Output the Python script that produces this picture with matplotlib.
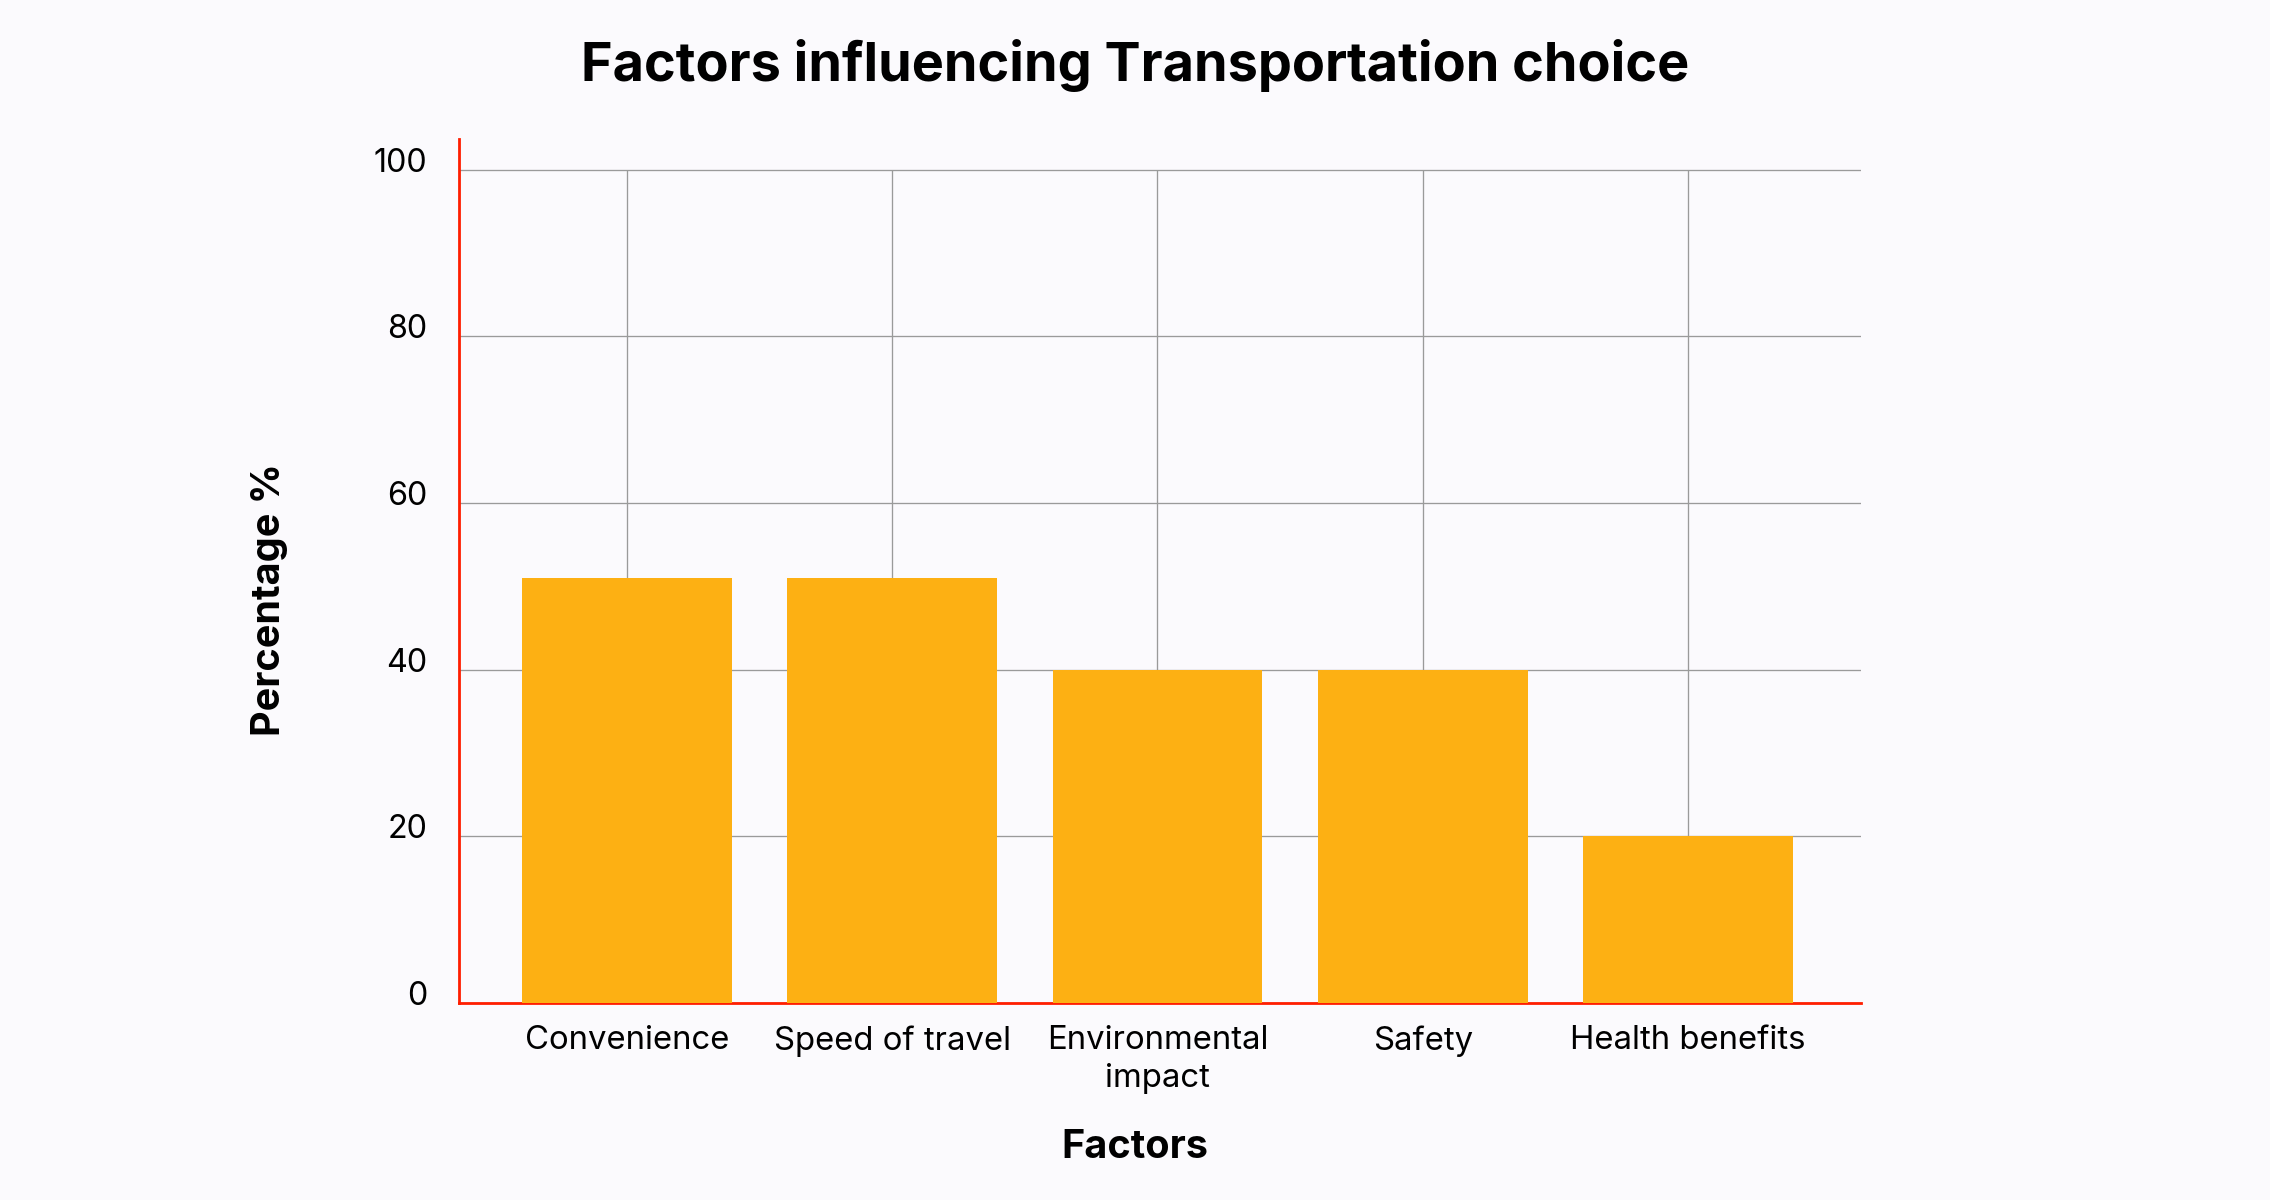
import matplotlib
matplotlib.use("Agg")
import matplotlib.pyplot as plt
import matplotlib.transforms as mtransforms
import numpy as np

categories = ["Convenience", "Speed of travel", "Environmental\nimpact", "Safety", "Health benefits"]
values = [51, 51, 40, 40, 20]
yticks = [0, 20, 40, 60, 80, 100]

plt.rcParams['font.family'] = ['Inter', 'DejaVu Sans']

bg = "#FBFAFD"
fig = plt.figure(figsize=(22.7, 12), dpi=100, facecolor=bg)
ax = fig.add_axes([0.2022, 0.1642, 0.8198 - 0.2022, 0.8842 - 0.1642])
ax.set_facecolor(bg)

x = np.arange(len(categories))
ax.bar(x, values, width=0.79, color="#FDB013", zorder=3)

ax.set_xlim(-0.633, len(categories) - 1 + 0.652)
ax.set_ylim(0, 103.7)
ax.set_yticks(yticks)
ax.set_xticks(x)
ax.set_xticklabels(categories, fontsize=23.7, linespacing=1.3)
ax.set_yticklabels([str(t) for t in yticks], fontsize=23.3)

ax.yaxis.grid(True, color="#9A9A9A", linewidth=0.95, zorder=1)
ax.vlines(x, 0, yticks[-1], color="#9A9A9A", linewidth=0.95, zorder=1)
ax.set_axisbelow(True)

ax.tick_params(axis='both', length=0)
ax.tick_params(axis='x', pad=16)
ax.tick_params(axis='y', pad=23)

offset = mtransforms.ScaledTranslation(0, 10 / 100, fig.dpi_scale_trans)
for lab in ax.get_yticklabels():
    lab.set_transform(lab.get_transform() + offset)

for s in ["top", "right"]:
    ax.spines[s].set_visible(False)
for s in ["left", "bottom"]:
    ax.spines[s].set_color("#FF1E00")
    ax.spines[s].set_linewidth(2.0)

fig.text(0.5, 1 - 66 / 1200, "Factors influencing Transportation choice",
         ha="center", va="center", fontsize=38.9, fontweight="bold")
fig.text(0.5, 1 - 1148 / 1200, "Factors", ha="center", va="center",
         fontsize=28.5, fontweight="bold")
fig.text(269 / 2270, 0.5, "Percentage %", ha="center", va="center",
         rotation=90, fontsize=28.5, fontweight="bold")

fig.savefig("out.png", dpi=100, facecolor=bg)
